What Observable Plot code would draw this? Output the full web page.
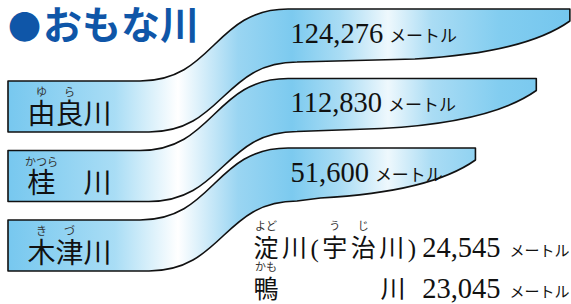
<!DOCTYPE html>
<html>
<head>
<meta charset="utf-8">
<script src="https://cdn.jsdelivr.net/npm/d3@7"></script>
<script src="https://cdn.jsdelivr.net/npm/@observablehq/plot@0.6"></script>
<style>
  html, body { margin: 0; padding: 0; background: #fff; }
  #wrap { position: relative; width: 571px; height: 304px; overflow: hidden; }
  #title { position: absolute; left: 8px; top: 6px; margin: 0; font: 700 39px/1 "Liberation Sans", "Noto Sans CJK JP", sans-serif; color: #0f56a8; white-space: nowrap; }
  #title .dot { font-family: "Noto Sans CJK JP", sans-serif; font-size: 33px; margin-right: 2px; }
  svg { display: block; }
</style>
</head>
<body>
<div id="wrap"><div id="title"></div></div>
<script>
// ---- data ----
const titleText = "●おもな川";
const ribbonRivers = ["由良川", "桂川", "木津川"];
const ribbonLengths = [124276, 112830, 51600];
const ribbonLabels = ["由良川", "桂　川", "木津川"];
const ribbonRuby = [[["ゆ", 0], ["ら", 1]], [["かつら", 0]], [["き", 0], ["づ", 1]]];
const otherRivers = ["淀川（宇治川）", "鴨川"];
const otherLengths = [24545, 23045];
const otherLabels = ["淀川(宇治川)", "鴨　　　　川"];
const otherRuby = [[["よど", 0], ["う", 3], ["じ", 4]], [["かも", 0]]];
const unitLabel = "メートル";

// ---- helpers ----
const fmt = d3.format(",");
const serif = '"Liberation Serif", "Times New Roman", serif';
const labelFont = '"Liberation Serif", "Noto Sans CJK JP", serif';
const kanaFont = '"Liberation Sans", "Noto Sans CJK JP", sans-serif';
const ctx = document.createElement("canvas").getContext("2d");
function textWidth(s, font, ls = 0) { ctx.font = font; return ctx.measureText(s).width + ls * s.length; }
function charCenter(label, i, size, ls) {
  const font = `${size}px ${labelFont}`;
  return textWidth(label.slice(0, i), font, ls) + textWidth(label[i], font, 0) / 2;
}

const ribbonData = ribbonRivers.map((name, i) => ({name, length: ribbonLengths[i], label: ribbonLabels[i], ruby: ribbonRuby[i]}));
const otherData = otherRivers.map((name, i) => ({name, length: otherLengths[i], label: otherLabels[i], ruby: otherRuby[i]}));

const titleEl = document.getElementById("title");
const dotSpan = document.createElement("span");
dotSpan.className = "dot";
dotSpan.textContent = titleText.slice(0, 1);
titleEl.appendChild(dotSpan);
titleEl.appendChild(document.createTextNode(titleText.slice(1)));

const W = 571, Hh = 304;
const NUM = 28.5, numX = 290;
const LABEL = 28, labelX = 27;
const RUBY = 11;
const OTHER = 25, otherX = 253;
const otherLs = [3.5, 0.4];
const otherDy = [-47.5, -6.5];

const gradStops = [[0, "#74c6ee"], [10, "#78c8ef"], [115, "#a9ddf5"], [178, "#ffffff"], [238, "#9ad5f2"], [292, "#7ccaef"], [340, "#a9dcf4"], [388, "#eef8fd"], [432, "#aadcf4"], [500, "#82cdf0"], [571, "#74c6ee"]];

function ribbonPath(T, E) {
  const D = 72, L = 8, B = 51;
  return `M${L},${T + D} L140,${T + D} C214,${T + D} 214,${T} 288,${T} L${E},${T} L${E},${T + 12} ` +
    `Q${E - 45},${T + 44} ${E - 155},${T + 50} L297,${T + 53} C223,${T + 53} 223,${T + D + B} 149,${T + D + B} L${L},${T + D + B} Z`;
}

function ribbons(index, scales, values, dimensions) {
  const g = d3.create("svg:g");
  const grad = g.append("defs").append("linearGradient")
    .attr("id", "ribbonGrad").attr("gradientUnits", "userSpaceOnUse")
    .attr("x1", 0).attr("x2", dimensions.width).attr("y1", 0).attr("y2", 0);
  for (const [px, c] of gradStops) grad.append("stop").attr("offset", px / W).attr("stop-color", c);
  for (const d of ribbonData) {
    g.append("path")
      .attr("d", ribbonPath(scales.y(d.name), scales.x(d.length)))
      .attr("fill", "url(#ribbonGrad)")
      .attr("stroke", "#111").attr("stroke-width", 1.6).attr("stroke-linejoin", "round");
  }
  return g.node();
}

const marks = [
  Plot.dot(ribbonData, {x: "length", y: "name", r: 0}),
  ribbons,
  Plot.text(ribbonData, {y: "name", text: d => fmt(d.length), frameAnchor: "left", dx: numX, dy: 33,
    textAnchor: "start", lineAnchor: "bottom", fontFamily: serif, fontSize: NUM, fill: "#111"}),
  ribbonData.map(d => Plot.text([d], {y: "name", text: () => unitLabel, frameAnchor: "left",
    dx: numX + textWidth(fmt(d.length), `${NUM}px ${serif}`) + 6, dy: 32,
    textAnchor: "start", lineAnchor: "bottom", fontFamily: kanaFont, fontSize: 17, fill: "#111"})),
  Plot.text(ribbonData, {y: "name", text: "label", frameAnchor: "left", dx: labelX, dy: 114,
    textAnchor: "start", lineAnchor: "bottom", fontFamily: labelFont, fontSize: LABEL, fill: "#111"}),
  ribbonData.flatMap(d => d.ruby.map(([kana, ci]) => Plot.text([d], {y: "name", text: () => kana, frameAnchor: "left",
    dx: labelX + charCenter(d.label, ci, LABEL, 0), dy: 86.5,
    textAnchor: "middle", lineAnchor: "bottom", fontFamily: kanaFont, fontSize: RUBY, fill: "#333"}))),
  otherData.map((d, i) => [
    Plot.text([d], {text: "label", frameAnchor: "bottom-left", dx: otherX, dy: otherDy[i],
      textAnchor: "start", lineAnchor: "bottom", fontFamily: labelFont, fontSize: OTHER, fill: "#111",
      ariaDescription: `other-label-${i}`}),
    Plot.text([d], {text: d => fmt(d.length), frameAnchor: "bottom-left", dx: 500, dy: otherDy[i],
      textAnchor: "end", lineAnchor: "bottom", fontFamily: serif, fontSize: NUM, fill: "#111"}),
    Plot.text([d], {text: () => unitLabel, frameAnchor: "bottom-left", dx: 509, dy: otherDy[i] - 1,
      textAnchor: "start", lineAnchor: "bottom", fontFamily: kanaFont, fontSize: 15, fill: "#111"}),
    d.ruby.map(([kana, ci]) => Plot.text([d], {text: () => kana, frameAnchor: "bottom-left",
      dx: otherX + charCenter(d.label, ci, OTHER, otherLs[i]), dy: otherDy[i] - 27,
      textAnchor: "middle", lineAnchor: "bottom", fontFamily: kanaFont, fontSize: RUBY, fill: "#333"}))
  ])
];

const chart = Plot.plot({
  width: W, height: Hh, margin: 0,
  x: {type: "linear", domain: [50000, 110000, 125000], range: [474, 528, 572], axis: null},
  y: {type: "point", domain: ribbonRivers, range: [9, 148], padding: 0, round: false, axis: null},
  style: {background: "transparent", overflow: "visible"},
  marks
});
const wrap = document.getElementById("wrap");
wrap.insertBefore(chart, wrap.firstChild);
otherLs.forEach((ls, i) => {
  chart.querySelectorAll(`g[aria-description="other-label-${i}"] text`).forEach(t => t.style.letterSpacing = ls + "px");
});
</script>
</body>
</html>
